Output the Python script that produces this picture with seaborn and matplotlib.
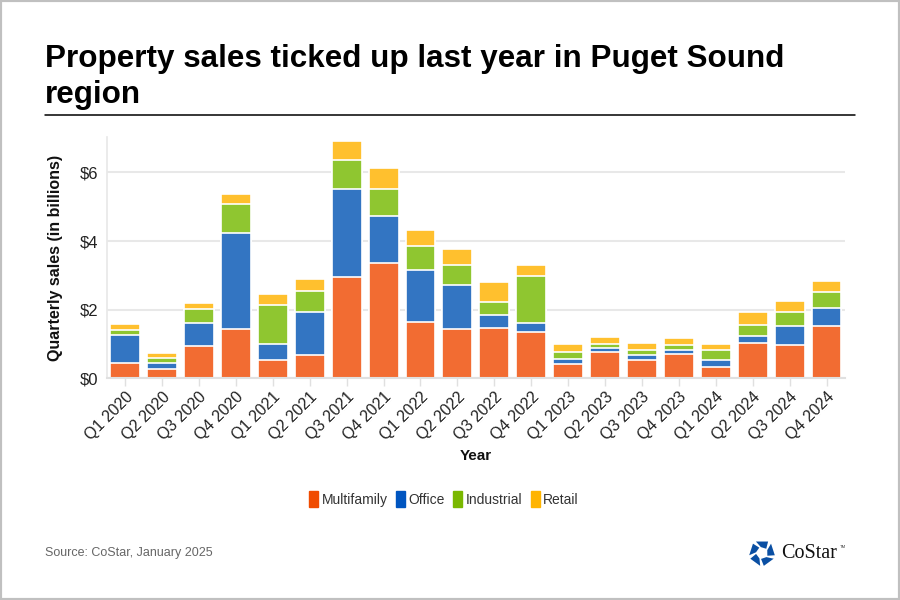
import matplotlib
matplotlib.use("Agg")
import matplotlib.pyplot as plt
import seaborn as sns
import numpy as np
from matplotlib.patches import Patch, Rectangle, Polygon

quarters = ["Q1 2020", "Q2 2020", "Q3 2020", "Q4 2020",
            "Q1 2021", "Q2 2021", "Q3 2021", "Q4 2021",
            "Q1 2022", "Q2 2022", "Q3 2022", "Q4 2022",
            "Q1 2023", "Q2 2023", "Q3 2023", "Q4 2023",
            "Q1 2024", "Q2 2024", "Q3 2024", "Q4 2024"]
multifamily = [0.44, 0.27, 0.95, 1.44, 0.53, 0.67, 2.95, 3.37, 1.63, 1.44,
               1.46, 1.35, 0.43, 0.78, 0.53, 0.70, 0.32, 1.03, 0.97, 1.53]
office = [0.82, 0.17, 0.67, 2.80, 0.46, 1.27, 2.56, 1.37, 1.53, 1.28,
          0.37, 0.27, 0.12, 0.09, 0.16, 0.13, 0.21, 0.20, 0.55, 0.53]
industrial = [0.14, 0.14, 0.39, 0.84, 1.14, 0.59, 0.85, 0.77, 0.69, 0.58,
              0.38, 1.35, 0.22, 0.14, 0.14, 0.14, 0.29, 0.33, 0.40, 0.44]
retail = [0.19, 0.16, 0.17, 0.28, 0.33, 0.35, 0.55, 0.62, 0.47, 0.47,
          0.61, 0.34, 0.22, 0.18, 0.19, 0.20, 0.17, 0.37, 0.32, 0.34]
series_names = ["Multifamily", "Office", "Industrial", "Retail"]
ytick_vals = [0, 2, 4, 6]
ytick_labels = ["$0", "$2", "$4", "$6"]

bar_colors = ["#F26C32", "#3375C2", "#8FC630", "#FFC02E"]
legend_colors = ["#F04B00", "#0055C0", "#7AB800", "#FFB400"]

sns.set_theme(style="white")
plt.rcParams["font.family"] = ["Liberation Sans", "DejaVu Sans"]

fig = plt.figure(figsize=(9, 6), dpi=100)
ax = fig.add_axes([106.7 / 900, 1 - 378.3 / 600, (845 - 106.7) / 900, (378.3 - 137) / 600])

data = [multifamily, office, industrial, retail]
cum = np.cumsum(np.array(data), axis=0)
for i in range(3, -1, -1):
    sns.barplot(x=quarters, y=cum[i], color=bar_colors[i], width=0.81,
                edgecolor="white", linewidth=1.2, saturation=1, ax=ax, zorder=3)

ax.set_xlim(-0.5, len(quarters) - 0.5)
ax.set_ylim(0, 7.03)
ax.set_yticks(ytick_vals)
ax.set_yticklabels(ytick_labels, fontsize=12, color="#222222")
ax.yaxis.grid(True, color="#e8e8e8", linewidth=1.5, zorder=0)
ax.xaxis.grid(False)
ax.tick_params(axis="y", length=0, pad=6)
ax.tick_params(axis="x", length=6, width=1, color="#e0e0e0", pad=2, direction="out", bottom=True)
ax.set_xticks(range(len(quarters)))
ax.set_xticklabels(quarters, rotation=45, ha="right", rotation_mode="anchor",
                   fontsize=11.5, color="#222222")
for s in ["top", "right"]:
    ax.spines[s].set_visible(False)
ax.spines["left"].set_color("#e8e8e8")
ax.spines["left"].set_linewidth(1.2)
ax.spines["bottom"].set_color("#e0e0e0")
ax.spines["bottom"].set_linewidth(1.5)
ax.spines["bottom"].set_zorder(4)

ax.set_ylabel("Quarterly sales (in billions)", fontsize=11.5, fontweight="bold",
              color="#111111", labelpad=12)
ax.set_xlabel("Year", fontsize=11, fontweight="bold", color="#111111", labelpad=4)

# Title
fig.text(45 / 900, 1 - 67 / 600, "Property sales ticked up last year in Puget Sound",
         fontsize=22.6, fontweight="bold", color="#000000", va="baseline", ha="left")
fig.text(45 / 900, 1 - 103 / 600, "region",
         fontsize=22.6, fontweight="bold", color="#000000", va="baseline", ha="left")
fig.add_artist(plt.Line2D([45 / 900, 855 / 900], [1 - 115 / 600, 1 - 115 / 600],
                          color="black", linewidth=1.1, transform=fig.transFigure))

# Legend
handles = [Patch(facecolor=c, edgecolor=c, label=n) for c, n in zip(legend_colors, series_names)]
fig.legend(handles=handles, loc="center", bbox_to_anchor=(444 / 900, 1 - 499 / 600),
           ncol=4, frameon=False, fontsize=10, handlelength=0.65, handleheight=1.3,
           handletextpad=0.25, columnspacing=0.6, labelcolor="#333333")

# Source
fig.text(45 / 900, 1 - 553 / 600, "Source: CoStar, January 2025", fontsize=9,
         color="#666666", va="center", ha="left")

# CoStar logo (approximate)
cx, cy, r1, r2 = 762, 553, 13, 6
angles = np.deg2rad(np.arange(5) * 72 + 90)
for k, a in enumerate(angles):
    a0, a1 = a - np.deg2rad(28), a + np.deg2rad(28)
    pts = [(cx + r1 * np.cos(a0), cy - r1 * np.sin(a0)),
           (cx + r1 * np.cos(a1), cy - r1 * np.sin(a1)),
           (cx + r2 * np.cos(a1 - 0.3), cy - r2 * np.sin(a1 - 0.3)),
           (cx + r2 * np.cos(a0 - 0.3), cy - r2 * np.sin(a0 - 0.3))]
    pts = [(x / 900, 1 - y / 600) for x, y in pts]
    fig.add_artist(Polygon(pts, closed=True, facecolor="#0A4FA3", edgecolor="none",
                           transform=fig.transFigure))
fig.text(781 / 900, 1 - 553 / 600, "CoStar", fontsize=14.5, family=["Liberation Serif", "DejaVu Serif"],
         color="#111111", va="center", ha="left")
fig.text(840 / 900, 1 - 547 / 600, "TM", fontsize=3, color="#333333", va="center", ha="left")

# Border
fig.add_artist(Rectangle((0, 0), 1, 1, transform=fig.transFigure, fill=False,
                         edgecolor="#c0c0c0", linewidth=3))

fig.savefig("out.png", dpi=100)
